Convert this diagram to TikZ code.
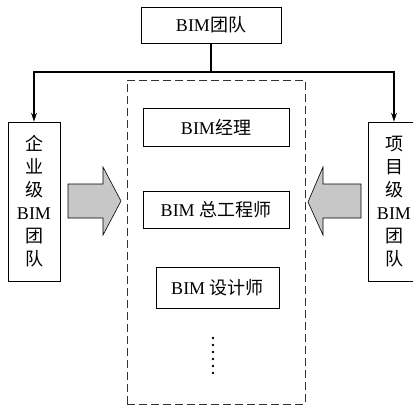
\documentclass[tikz,border=0pt]{standalone}
\usepackage{fontspec}
\setmainfont{Liberation Serif}
\newfontfamily\cjk{Noto Sans CJK SC}
\usetikzlibrary{arrows.meta}
\tikzset{
  box/.style={draw, line width=0.8pt, rectangle, inner sep=0pt, font=\fontsize{18}{23}\selectfont},
  link/.style={line width=1.8pt},
  tip/.style={-{Stealth[length=9pt,width=6pt]}},
  bigarrow/.style={draw, line width=0.6pt, fill=black!22},
}
\newcommand{\zh}[1]{{\cjk #1}}
\begin{document}
\begin{tikzpicture}[x=1pt,y=-1pt]
  \useasboundingbox (0,0) rectangle (413,405);

  % top-level team
  \node[box, minimum width=140pt, minimum height=36pt] (top) at (211,25) {BIM\zh{团队}};

  % enterprise and project level teams
  \node[box, minimum width=52pt, minimum height=159pt, align=center] (ent) at (34,201.5)
    {\zh{企}\\\zh{业}\\\zh{级}\\BIM\\\zh{团}\\\zh{队}};
  \node[box, minimum width=52pt, minimum height=159pt, align=center] (proj) at (394,201.5)
    {\zh{项}\\\zh{目}\\\zh{级}\\BIM\\\zh{团}\\\zh{队}};

  % dashed group of roles
  \node[draw, dash pattern=on 8pt off 4pt, line width=0.9pt, color=black!80,
        minimum width=178pt, minimum height=324pt, inner sep=0pt] (grp) at (216,242) {};

  \node[box, minimum width=146pt, minimum height=38pt] (mgr) at (216,127) {BIM\zh{经理}};
  \node[box, minimum width=146pt, minimum height=37pt] (chief) at (216,209.5) {BIM \zh{总工程师}};
  \node[box, minimum width=123pt, minimum height=41pt] (des) at (217.5,287.5) {BIM \zh{设计师}};

  % vertical ellipsis
  \foreach \k in {0,...,5}
    \fill (213,338+7*\k) circle (1.4pt);

  % connectors from the top team
  \coordinate (j) at (211,72);
  \draw[link] (top.south) -- (j);
  \draw[link, tip] (j) -| (ent.north);
  \draw[link, tip] (j) -| (proj.north);

  % block arrows into the group
  \draw[bigarrow] (68,184) -- (103,184) -- (103,167) -- (121,201) -- (103,235)
    -- (103,218) -- (68,218) -- cycle;
  \draw[bigarrow] (361,184) -- (323,184) -- (323,167) -- (308,202) -- (323,235)
    -- (323,218) -- (361,218) -- cycle;
\end{tikzpicture}
\end{document}
